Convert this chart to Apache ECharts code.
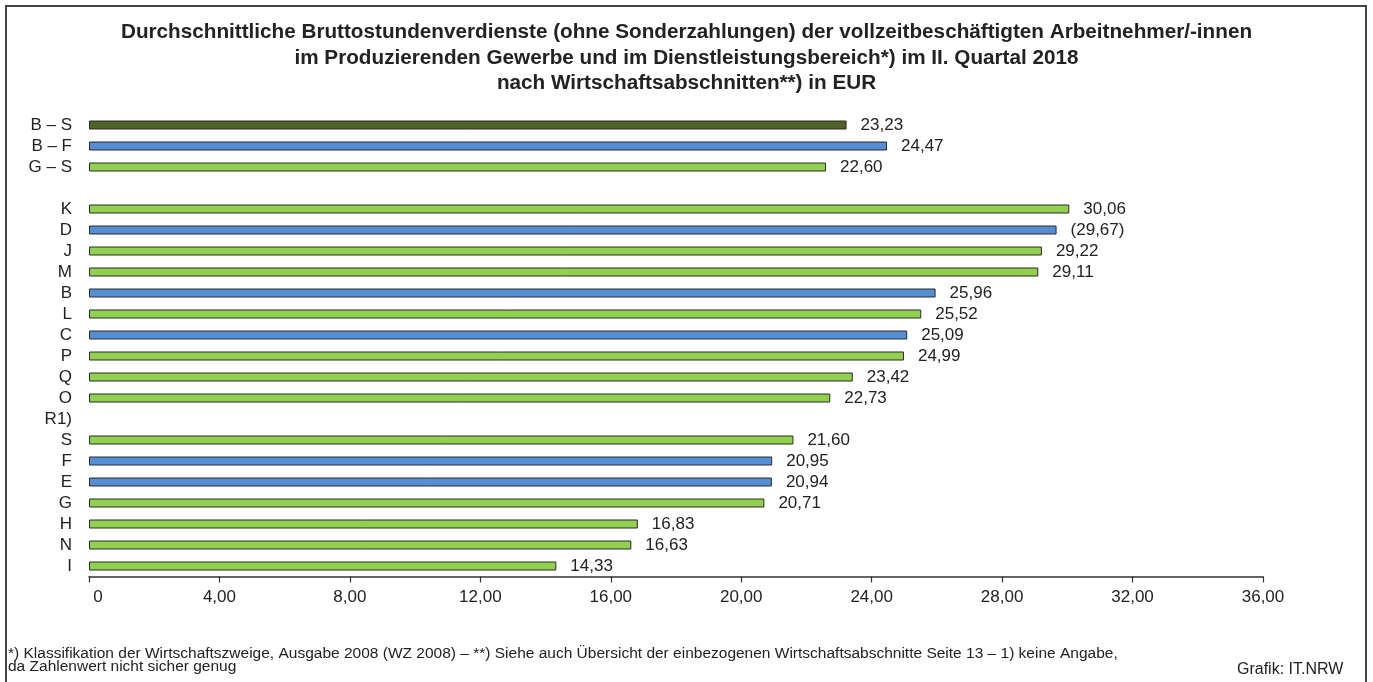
<!DOCTYPE html>
<html><head><meta charset="utf-8">
<script src="https://cdn.jsdelivr.net/npm/echarts@6/dist/echarts.min.js"></script>
<style>html,body{margin:0;padding:0;background:#fff}#c{width:1373px;height:682px}</style>
</head><body><div id="c"></div>
<script>
const categories = ['B – S','B – F','G – S','','K','D','J','M','B','L','C','P','Q','O','R1)','S','F','E','G','H','N','I'];
const values = [23.23,24.47,22.60,null,30.06,29.67,29.22,29.11,25.96,25.52,25.09,24.99,23.42,22.73,null,21.60,20.95,20.94,20.71,16.83,16.63,14.33];
const groups = ['total','prod','serv',null,'serv','prod','serv','serv','prod','serv','prod','serv','serv','serv',null,'serv','prod','prod','serv','serv','serv','serv'];
const uncertain = ['D'];
const xTicks = {min:0, max:36, interval:4};
const titleLines = ['Durchschnittliche Bruttostundenverdienste (ohne Sonderzahlungen) der vollzeitbeschäftigten Arbeitnehmer/-innen','im Produzierenden Gewerbe und im Dienstleistungsbereich*) im II. Quartal 2018','nach Wirtschaftsabschnitten**) in EUR'];
const footLines = ['*) Klassifikation der Wirtschaftszweige, Ausgabe 2008 (WZ 2008) – **) Siehe auch Übersicht der einbezogenen Wirtschaftsabschnitte Seite 13 – 1) keine Angabe,','da Zahlenwert nicht sicher genug'];
const source = 'Grafik: IT.NRW';

const colorMap = {total:'#4f6228', prod:'#558ed5', serv:'#92d050'};
const fmt = v => v === 0 ? '0' : v.toFixed(2).replace('.', ',');
const FONT = '"Liberation Sans", Arial, sans-serif';

const chart = echarts.init(document.getElementById('c'));
chart.setOption({
  animation:false,
  textStyle:{fontFamily:FONT},
  title:{
    text:titleLines.join('\n'),
    left:'center', top:15,
    textStyle:{fontSize:20.7, fontWeight:'bold', color:'#222', lineHeight:25.5, fontFamily:FONT}
  },
  grid:{left:89, right:110, top:114.5, bottom:105.5},
  xAxis:{
    type:'value', min:xTicks.min, max:xTicks.max, interval:xTicks.interval,
    axisLine:{show:true, lineStyle:{color:'#333', width:1.5}},
    axisTick:{show:true, length:6, lineStyle:{color:'#333', width:1.2}},
    splitLine:{show:false},
    axisLabel:{
      formatter:v => v === 0 ? '{z|0}' : fmt(v),
      fontSize:17, color:'#222', margin:12, fontFamily:FONT,
      rich:{z:{fontSize:17, color:'#222', padding:[0,0,0,18], fontFamily:FONT}}
    }
  },
  yAxis:{
    type:'category', data:categories, inverse:true,
    axisLine:{show:false}, axisTick:{show:false}, splitLine:{show:false},
    axisLabel:{interval:0, fontSize:17, color:'#222', margin:17, fontFamily:FONT}
  },
  series:[{
    type:'bar', barWidth:9,
    data:values.map((v,i)=>({
      value:v,
      itemStyle:{color: groups[i] ? colorMap[groups[i]] : '#fff', borderColor:'#2b2b2b', borderWidth:1}
    })),
    label:{
      show:true, position:'right', distance:14, fontSize:17, color:'#222', fontFamily:FONT,
      formatter:p => p.value == null ? '' : (uncertain.includes(categories[p.dataIndex]) ? '(' + fmt(p.value) + ')' : fmt(p.value))
    }
  }],
  graphic:[
    {type:'rect', shape:{x:6, y:6, width:1360, height:680}, style:{fill:'none', stroke:'#444', lineWidth:2}, silent:true},
    {type:'text', left:8, top:646, style:{text:footLines.join('\n'), fontSize:15.5, lineHeight:13, fill:'#222', fontFamily:FONT}},
    {type:'text', left:1237, top:662, style:{text:source, fontSize:16, fill:'#222', fontFamily:FONT}}
  ]
});
</script></body></html>
